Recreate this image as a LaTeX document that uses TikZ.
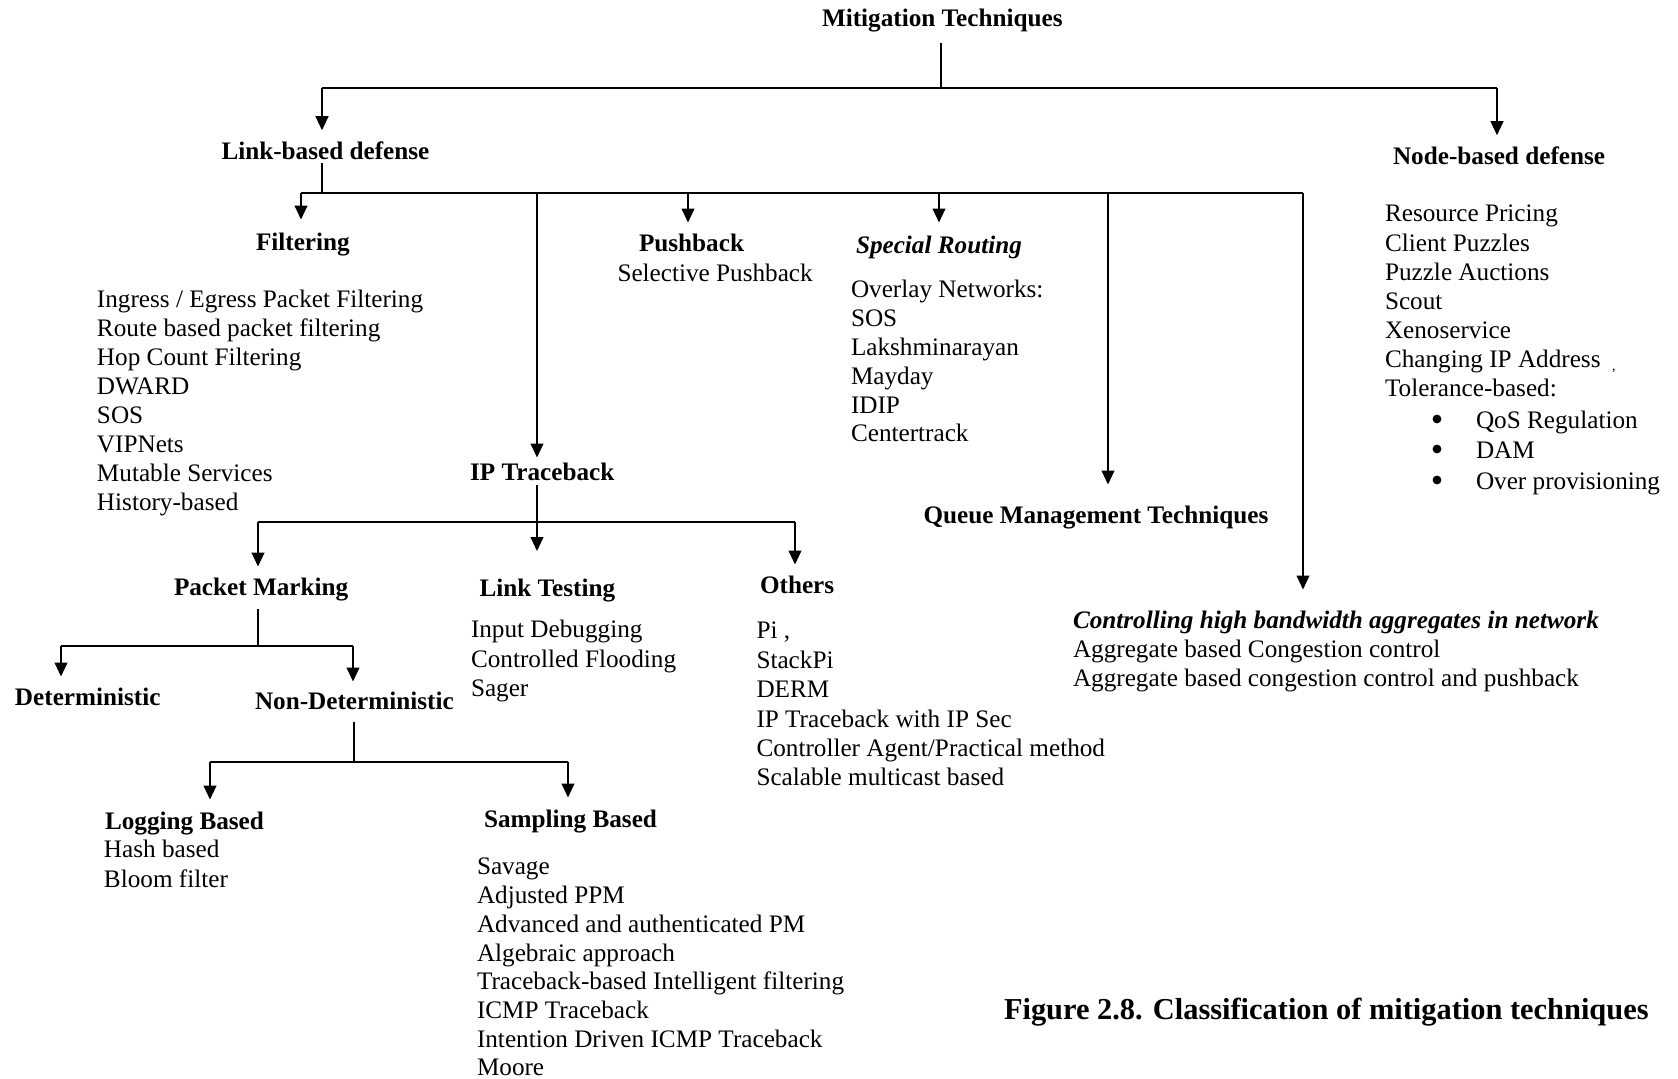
\documentclass[tikz,border=0pt]{standalone}
\usepackage{fontspec}
\setmainfont{Liberation Serif}
\usetikzlibrary{arrows.meta}
\begin{document}
\begin{tikzpicture}[x=0.5pt,y=-0.5pt,
  every node/.style={inner sep=0pt, outer sep=0pt, anchor=base west,
    font=\fontsize{12.6}{14.5}\selectfont},
  head/.style={font=\fontsize{12.6}{14.5}\selectfont\bfseries},
  ihead/.style={font=\fontsize{12.6}{14.5}\selectfont\bfseries\itshape},
  dot/.style={circle, fill=black, minimum size=4.4pt, anchor=center},
  ln/.style={line width=0.8pt},
  arr/.style={ln, -{Triangle[length=7pt,width=6.4pt]}}]

\fill[white] (0,0) rectangle (1678,1079);
\useasboundingbox (0,0) rectangle (1678,1079);

% ---------- headings ----------
\node[head] (mt)   at (822,27)    {Mitigation Techniques};
\node[head] (lb)   at (221.5,160) {Link-based defense};
\node[head] (nb)   at (1393,165)  {Node-based defense};
\node[head] (filt) at (256,251)   {Filtering};
\node[head] (push) at (639,252)   {Pushback};
\node (sel) at (617.5,282) {Selective Pushback};
\node[ihead] (sr)  at (856,254)   {Special Routing};
\node[head] (ipt)  at (470,481)   {IP Traceback};
\node[head] (qm)   at (923.5,524) {Queue Management Techniques};
\node[ihead] (ctrl) at (1073,629) {Controlling high bandwidth aggregates in network};
\node[head] (pm)   at (174,595.5) {Packet Marking};
\node[head] (lt)   at (479.5,596.5) {Link Testing};
\node[head] (oth)  at (760,594)   {Others};
\node[head] (det)  at (15,706)    {Deterministic};
\node[head] (nd)   at (255,710)   {Non-Deterministic};
\node[head] (log)  at (105,830)   {Logging Based};
\node[head] (samp) at (484,828)   {Sampling Based};

% ---------- item lists ----------
\foreach \t [count=\i] in {Ingress / Egress Packet Filtering, Route based packet filtering,
    Hop Count Filtering, DWARD, SOS, VIPNets, Mutable Services, History-based}
  \node (fi\i) at (97,{307.6+29*(\i-1)}) {\t};

\foreach \t [count=\i] in {Overlay Networks:, SOS, Lakshminarayan, Mayday, IDIP, Centertrack}
  \node (sr\i) at (851,{298+28.8*(\i-1)}) {\t};

\foreach \t [count=\i] in {Resource Pricing, Client Puzzles, Puzzle Auctions, Scout,
    Xenoservice, Changing IP Address, Tolerance-based:}
  \node (nb\i) at (1385,{222+29.1*(\i-1)}) {\t};
\node[font=\fontsize{7}{7}\selectfont] (nbmark) at (1612,371) {,};

\foreach \t/\yy [count=\i] in {QoS Regulation/428.5, DAM/458.5, Over provisioning/489.5}{
  \node[dot] (bu\i) at (1437,\yy-9.5) {};
  \node (tb\i) at (1476,\yy) {\t};
}

\foreach \t [count=\i] in {Aggregate based Congestion control,
    Aggregate based congestion control and pushback}
  \node (ag\i) at (1073,{657.5+29*(\i-1)}) {\t};

\foreach \t [count=\i] in {Input Debugging, Controlled Flooding, Sager}
  \node (lt\i) at (471,{638+29.5*(\i-1)}) {\t};

\foreach \t [count=\i] in {{Pi ,}, StackPi, DERM, IP Traceback with IP Sec,
    Controller Agent/Practical method, Scalable multicast based}
  \node (ot\i) at (756.5,{639+29.4*(\i-1)}) {\t};

\foreach \t [count=\i] in {Hash based, Bloom filter}
  \node (lg\i) at (104,{858+30*(\i-1)}) {\t};

\foreach \t [count=\i] in {Savage, Adjusted PPM, Advanced and authenticated PM,
    Algebraic approach, Traceback-based Intelligent filtering, ICMP Traceback,
    Intention Driven ICMP Traceback, Moore}
  \node (sa\i) at (477,{875+28.7*(\i-1)}) {\t};

\node[font=\fontsize{15.2}{17}\selectfont\bfseries] (cap) at (1004,1020)
  {Figure 2.8. Classification of mitigation techniques};

% ---------- level 1 ----------
\coordinate (jT)  at (941,88);
\coordinate (jLB) at (322,88);
\coordinate (jNB) at (1497,88);
\draw[ln, shorten <=5pt] (jT |- mt.south) -- (jT);
\draw[ln] (jLB) -- (jNB);
\draw[arr, shorten >=6pt] (jLB) -- (jLB |- lb.north);
\draw[arr, shorten >=6pt] (jNB) -- (jNB |- nb.north);

% ---------- link-based children ----------
\coordinate (jL)  at (322,193);
\coordinate (jFi) at (301,193);
\coordinate (jIP) at (537,193);
\coordinate (jPu) at (688,193);
\coordinate (jSR) at (939,193);
\coordinate (jQM) at (1108,193);
\coordinate (jCH) at (1303,193);
\draw[ln, shorten <=1.5pt] (jL |- lb.south) -- (jL);
\draw[ln] (jFi) -- (jCH);
\draw[arr, shorten >=7pt]  (jFi) -- (jFi |- filt.north);
\draw[arr, shorten >=3pt]  (jIP) -- (jIP |- ipt.north);
\draw[arr, shorten >=6pt]  (jPu) -- (jPu |- push.north);
\draw[arr, shorten >=7pt]  (jSR) -- (jSR |- sr.north);
\draw[arr, shorten >=11pt] (jQM) -- (jQM |- qm.north);
\draw[arr, shorten >=11pt] (jCH) -- (jCH |- ctrl.north);

% ---------- IP traceback children ----------
\coordinate (jI)  at (537,522);
\coordinate (jPM) at (258,522);
\coordinate (jOt) at (795,522);
\draw[ln, shorten <=2pt] (jI |- ipt.south) -- (jI);
\draw[ln] (jPM) -- (jOt);
\draw[arr, shorten >=5.75pt] (jPM) -- (jPM |- pm.north);
\draw[arr, shorten >=14pt]   (jI)  -- (jI |- lt.north);
\draw[arr, shorten >=6pt]    (jOt) -- (jOt |- oth.north);

% ---------- packet marking children ----------
\coordinate (jP)  at (258,646);
\coordinate (jDe) at (61,646);
\coordinate (jND) at (353,646);
\draw[ln, shorten <=4pt] (jP |- pm.south) -- (jP);
\draw[ln] (jDe) -- (jND);
\draw[arr, shorten >=6pt]   (jDe) -- (jDe |- det.north);
\draw[arr, shorten >=5.5pt] (jND) -- (jND |- nd.north);

% ---------- non-deterministic children ----------
\coordinate (jN)  at (354,762);
\coordinate (jLo) at (210,762);
\coordinate (jSa) at (568,762);
\draw[ln, shorten <=6pt] (jN |- nd.south) -- (jN);
\draw[ln] (jLo) -- (jSa);
\draw[arr, shorten >=6.5pt] (jLo) -- (jLo |- log.north);
\draw[arr, shorten >=6.5pt] (jSa) -- (jSa |- samp.north);

\end{tikzpicture}
\end{document}
